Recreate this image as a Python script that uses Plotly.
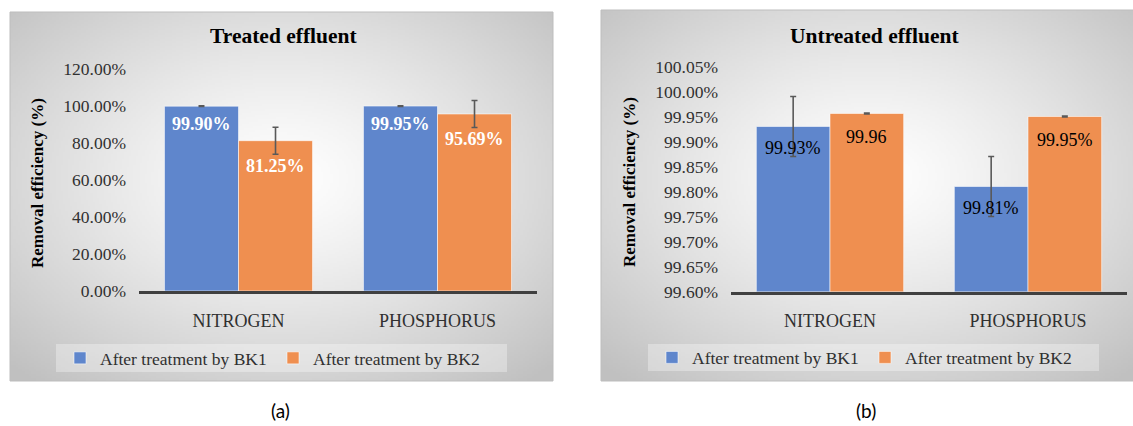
import base64
import struct
import zlib

import numpy as np
import plotly.graph_objects as go

# ---------------------------------------------------------------- data
categories = ["NITROGEN", "PHOSPHORUS"]
series_names = ["After treatment by BK1", "After treatment by BK2"]

treated_bk1 = [99.90, 99.95]
treated_bk2 = [81.25, 95.69]
treated_bk1_err = [0.2, 0.2]
treated_bk2_err = [7.3, 7.3]
treated_bk1_suffix = ["%", "%"]
treated_bk2_suffix = ["%", "%"]

untreated_bk1 = [99.93, 99.81]
untreated_bk2 = [99.956, 99.95]
untreated_bk1_err = [0.06, 0.06]
untreated_bk2_err = [0.001, 0.001]
untreated_bk1_suffix = ["%", "%"]
untreated_bk2_suffix = ["", "%"]

treated_ticks = [0, 20, 40, 60, 80, 100, 120]
untreated_ticks = [99.60, 99.65, 99.70, 99.75, 99.80, 99.85, 99.90, 99.95, 100.00, 100.05]

# ---------------------------------------------------------------- style
W, H = 1133, 426
SERIF = "Liberation Serif"
BLUE = "#5f86cc"
ORANGE = "#ef8f50"
TEXT = "#303030"
BARGAP = 0.256


def px(x):
    return x / W


def py(y):
    return 1 - y / H


def gradient_uri(w=240, h=170, cx=0.5, cy=0.45, inner=255, outer=192, power=1.25):
    """Grey radial gradient rendered as an inline PNG."""
    xs = (np.arange(w) + 0.5) / w - cx
    ys = (np.arange(h) + 0.5) / h - cy
    dx, dy = np.meshgrid(xs, ys)
    r = np.sqrt(dx ** 2 + dy ** 2) / 0.72
    v = inner - (inner - outer) * np.clip(r, 0, 1) ** power
    img = np.clip(v, 0, 255).astype(np.uint8)
    raw = b"".join(b"\x00" + row.tobytes() for row in img)

    def chunk(tag, data):
        c = struct.pack(">I", len(data)) + tag + data
        return c + struct.pack(">I", zlib.crc32(tag + data) & 0xFFFFFFFF)

    png = b"\x89PNG\r\n\x1a\n"
    png += chunk(b"IHDR", struct.pack(">IIBBBBB", w, h, 8, 0, 0, 0, 0))
    png += chunk(b"IDAT", zlib.compress(raw, 9))
    png += chunk(b"IEND", b"")
    return "data:image/png;base64," + base64.b64encode(png).decode()


fig = go.Figure()
grad = gradient_uri()

panels = [
    dict(
        key="", legend="legend", title="Treated effluent",
        box=(10, 12, 553, 381), plot=(139, 69, 537, 291),
        bk1=treated_bk1, bk2=treated_bk2,
        e1=treated_bk1_err, e2=treated_bk2_err,
        s1=treated_bk1_suffix, s2=treated_bk2_suffix,
        ticks=treated_ticks, rng=[0, 120],
        lab_color="white", lab_bold=True, shift1=-18, shift2=-25,
        title_x=284, ytitle_x=37, legend_box=(56, 344, 507, 372), legend_x=60,
        caption="(a)", caption_x=280,
    ),
    dict(
        key="2", legend="legend2", title="Untreated effluent",
        box=(601, 10, 1140, 381), plot=(731, 66.5, 1127, 291.5),
        bk1=untreated_bk1, bk2=untreated_bk2,
        e1=untreated_bk1_err, e2=untreated_bk2_err,
        s1=untreated_bk1_suffix, s2=untreated_bk2_suffix,
        ticks=untreated_ticks, rng=[99.60, 100.05],
        lab_color="black", lab_bold=False, shift1=-21, shift2=-23,
        title_x=874, ytitle_x=630, legend_box=(648, 344, 1099, 371), legend_x=652,
        caption="(b)", caption_x=866,
    ),
]

shapes, annotations, images = [], [], []
layout_axes = {}

for p in panels:
    k = p["key"]
    xa, ya = "x" + k, "y" + k
    bx0, by0, bx1, by1 = p["box"]
    X0, Y0, X1, Y1 = p["plot"]

    # panel background and frame
    images.append(dict(
        source=grad, xref="paper", yref="paper", x=px(bx0), y=py(by0),
        sizex=px(bx1 - bx0), sizey=(by1 - by0) / H, sizing="stretch",
        xanchor="left", yanchor="top", layer="below",
    ))
    shapes.append(dict(
        type="rect", xref="paper", yref="paper", x0=px(bx0), x1=px(bx1),
        y0=py(by1), y1=py(by0), line=dict(color="#bdbdbd", width=1),
        layer="below",
    ))
    lx0, ly0, lx1, ly1 = p["legend_box"]
    shapes.append(dict(
        type="rect", xref="paper", yref="paper", x0=px(lx0), x1=px(lx1),
        y0=py(ly1), y1=py(ly0), line=dict(width=0),
        fillcolor="rgba(255,255,255,0.32)", layer="below",
    ))

    for name, vals, err, color in (
        (series_names[0], p["bk1"], p["e1"], BLUE),
        (series_names[1], p["bk2"], p["e2"], ORANGE),
    ):
        fig.add_trace(go.Bar(
            x=categories, y=vals, name=name, xaxis=xa, yaxis=ya,
            legend=p["legend"],
            marker=dict(color=color, line=dict(color="rgba(255,255,255,0.55)", width=1)),
            error_y=dict(type="data", array=err, visible=True,
                         color="#595959", thickness=1.6, width=3),
            hoverinfo="skip",
        ))

    # value labels just below the top of each bar
    half = (1 - BARGAP) / 4
    for i in range(len(categories)):
        for vals, suf, sign, shift in (
            (p["bk1"], p["s1"], -1, p["shift1"]),
            (p["bk2"], p["s2"], 1, p["shift2"]),
        ):
            txt = f"{vals[i]:.2f}{suf[i]}"
            if p["lab_bold"]:
                txt = f"<b>{txt}</b>"
            annotations.append(dict(
                x=i + sign * half, y=vals[i], xref=xa, yref=ya, text=txt,
                showarrow=False, xanchor="center", yanchor="middle", yshift=shift,
                font=dict(family=SERIF, size=18, color=p["lab_color"]),
            ))

    # titles and caption
    annotations.append(dict(
        x=px(p["title_x"]), y=py(36), xref="paper", yref="paper",
        text=f"<b>{p['title']}</b>", showarrow=False,
        xanchor="center", yanchor="middle",
        font=dict(family=SERIF, size=21.5, color="black"),
    ))
    annotations.append(dict(
        x=px(p["ytitle_x"]), y=py((Y0 + Y1) / 2 + 3), xref="paper", yref="paper",
        text="<b>Removal efficiency (%)</b>", textangle=-90, showarrow=False,
        xanchor="center", yanchor="middle",
        font=dict(family=SERIF, size=17, color="black"),
    ))
    annotations.append(dict(
        x=px(p["caption_x"]), y=py(410), xref="paper", yref="paper",
        text=p["caption"], showarrow=False, xanchor="center", yanchor="middle",
        font=dict(family="Lato", size=19, color="black"),
    ))

    layout_axes["xaxis" + k] = dict(
        domain=[px(X0), px(X1)], anchor=ya, type="category", automargin=False,
        showline=True, linecolor="#404040", linewidth=3,
        showgrid=False, zeroline=False, ticks="", ticklabelstandoff=11,
        tickfont=dict(family=SERIF, size=18, color=TEXT), fixedrange=True,
    )
    layout_axes["yaxis" + k] = dict(
        domain=[py(Y1), py(Y0)], anchor=xa, range=p["rng"], automargin=False,
        tickmode="array", tickvals=p["ticks"],
        ticktext=[f"{t:.2f}%" for t in p["ticks"]],
        showline=False, showgrid=False, zeroline=False, ticks="",
        ticklabelstandoff=12,
        tickfont=dict(family=SERIF, size=17.5, color=TEXT), fixedrange=True,
    )

    layout_axes[p["legend"]] = dict(
        orientation="h", x=px(p["legend_x"]), y=py((ly0 + ly1) / 2),
        xanchor="left", yanchor="middle", bgcolor="rgba(0,0,0,0)",
        font=dict(family=SERIF, size=17.5, color=TEXT),
        itemwidth=30, entrywidth=168, entrywidthmode="pixels",
        traceorder="normal", itemclick=False, itemdoubleclick=False,
    )

fig.update_layout(
    width=W, height=H, autosize=False,
    margin=dict(l=0, r=0, t=0, b=0, pad=0, autoexpand=False),
    font=dict(family=SERIF, size=17, color=TEXT),
    paper_bgcolor="white", plot_bgcolor="rgba(0,0,0,0)",
    barmode="group", bargap=BARGAP, bargroupgap=0,
    shapes=shapes, annotations=annotations, images=images,
    **layout_axes,
)

fig.write_html(
    "out.html",
    config={"displayModeBar": False},
    post_script="document.body.style.margin='0';",
)
